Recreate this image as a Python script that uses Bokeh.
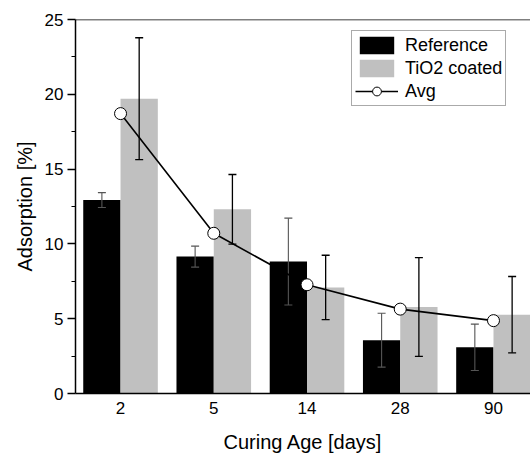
from bokeh.plotting import figure
from bokeh.models import (ColumnDataSource, Range1d, FixedTicker, Whisker, TeeHead,
                          Span, Legend, LegendItem)
from bokeh.embed import file_html
from bokeh.resources import INLINE
import numpy as np

categories = ["2", "5", "14", "28", "90"]
reference = [12.93, 9.15, 8.82, 3.56, 3.09]
reference_err = [0.5, 0.7, 2.9, 1.8, 1.55]
tio2 = [19.71, 12.31, 7.09, 5.78, 5.27]
tio2_err = [4.07, 2.33, 2.15, 3.3, 2.55]
avg = [18.71, 10.71, 7.27, 5.64, 4.87]
y_ticks = [0, 5, 10, 15, 20, 25]

FONT = "Liberation Sans"
idx = np.arange(len(categories), dtype=float)
bw = 0.4

src_ref = ColumnDataSource(dict(
    x=idx - bw / 2, top=reference,
    upper=[v + e for v, e in zip(reference, reference_err)],
    lower=[v - e for v, e in zip(reference, reference_err)]))
src_tio = ColumnDataSource(dict(
    x=idx + bw / 2, top=tio2,
    upper=[v + e for v, e in zip(tio2, tio2_err)],
    lower=[v - e for v, e in zip(tio2, tio2_err)]))
src_avg = ColumnDataSource(dict(x=idx, y=avg))

p = figure(width=530, height=455, output_backend="svg", toolbar_location=None,
           x_range=Range1d(-0.483, 4.397), y_range=Range1d(0, 25),
           min_border_left=75, min_border_right=0, min_border_top=19,
           min_border_bottom=61)
p.outline_line_color = None
p.grid.visible = False
p.background_fill_color = "white"

r_ref = p.vbar(x="x", top="top", width=bw, source=src_ref, fill_color="black",
               line_color=None)
r_tio = p.vbar(x="x", top="top", width=bw, source=src_tio, fill_color="#c0c0c0",
               line_color=None)

for src, col, lw in ((src_ref, "#555555", 1.1), (src_tio, "#000000", 1.3)):
    w = Whisker(base="x", upper="upper", lower="lower", source=src,
                line_color=col, line_width=lw, level="glyph",
                upper_head=TeeHead(size=8, line_color=col, line_width=lw),
                lower_head=TeeHead(size=8, line_color=col, line_width=lw))
    p.add_layout(w)

r_line = p.line(x="x", y="y", source=src_avg, line_color="black", line_width=1.6,
                level="overlay")
r_pts = p.scatter(x="x", y="y", source=src_avg, size=12, fill_color="white",
                  line_color="black", line_width=1, level="overlay")

p.add_layout(Span(location=25, dimension="width", line_color="black", line_width=1.5))

# axes
p.yaxis.ticker = FixedTicker(ticks=y_ticks, minor_ticks=[2.5, 7.5, 12.5, 17.5, 22.5])
p.yaxis.axis_label = "Adsorption [%]"
p.yaxis.major_tick_out = 8
p.yaxis.major_tick_in = 0
p.yaxis.minor_tick_out = 4
p.yaxis.minor_tick_in = 0
p.yaxis.major_label_standoff = 4
p.yaxis.axis_label_standoff = 6

p.xaxis.ticker = FixedTicker(ticks=list(idx))
p.xaxis.major_label_overrides = {float(i): c for i, c in enumerate(categories)}
p.xaxis.major_label_overrides.update({int(i): c for i, c in enumerate(categories)})
p.xaxis.axis_label = "Curing Age [days]"
p.xaxis.major_tick_out = 0
p.xaxis.major_tick_in = 0
p.xaxis.minor_tick_line_color = None
p.xaxis.major_label_standoff = 8
p.xaxis.axis_label_standoff = 14

for ax in (p.xaxis, p.yaxis):
    ax.axis_line_width = 1.5
    ax.axis_line_color = "black"
    ax.major_tick_line_color = "black"
    ax.major_tick_line_width = 1.3
    ax.major_label_text_font = FONT
    ax.major_label_text_font_size = "17px"
    ax.major_label_text_color = "black"
    ax.axis_label_text_font = FONT
    ax.axis_label_text_font_size = "20px"
    ax.axis_label_text_font_style = "normal"
    ax.axis_label_text_color = "black"
p.yaxis.minor_tick_line_color = "black"
p.yaxis.minor_tick_line_width = 1.2

legend = Legend(items=[
    LegendItem(label="Reference", renderers=[r_ref]),
    LegendItem(label="TiO2 coated", renderers=[r_tio]),
    LegendItem(label="Avg", renderers=[r_line, r_pts]),
], location=(276, 287))
legend.label_text_font = FONT
legend.label_text_font_size = "18px"
legend.label_text_color = "black"
legend.glyph_width = 43
legend.glyph_height = 22
legend.label_height = 22
legend.label_standoff = 7
legend.spacing = 1
legend.padding = 3
legend.margin = 0
legend.border_line_color = "#555555"
legend.border_line_width = 1
legend.background_fill_alpha = 1
p.add_layout(legend, "center")

open("out.html", "w").write(file_html(p, INLINE))
